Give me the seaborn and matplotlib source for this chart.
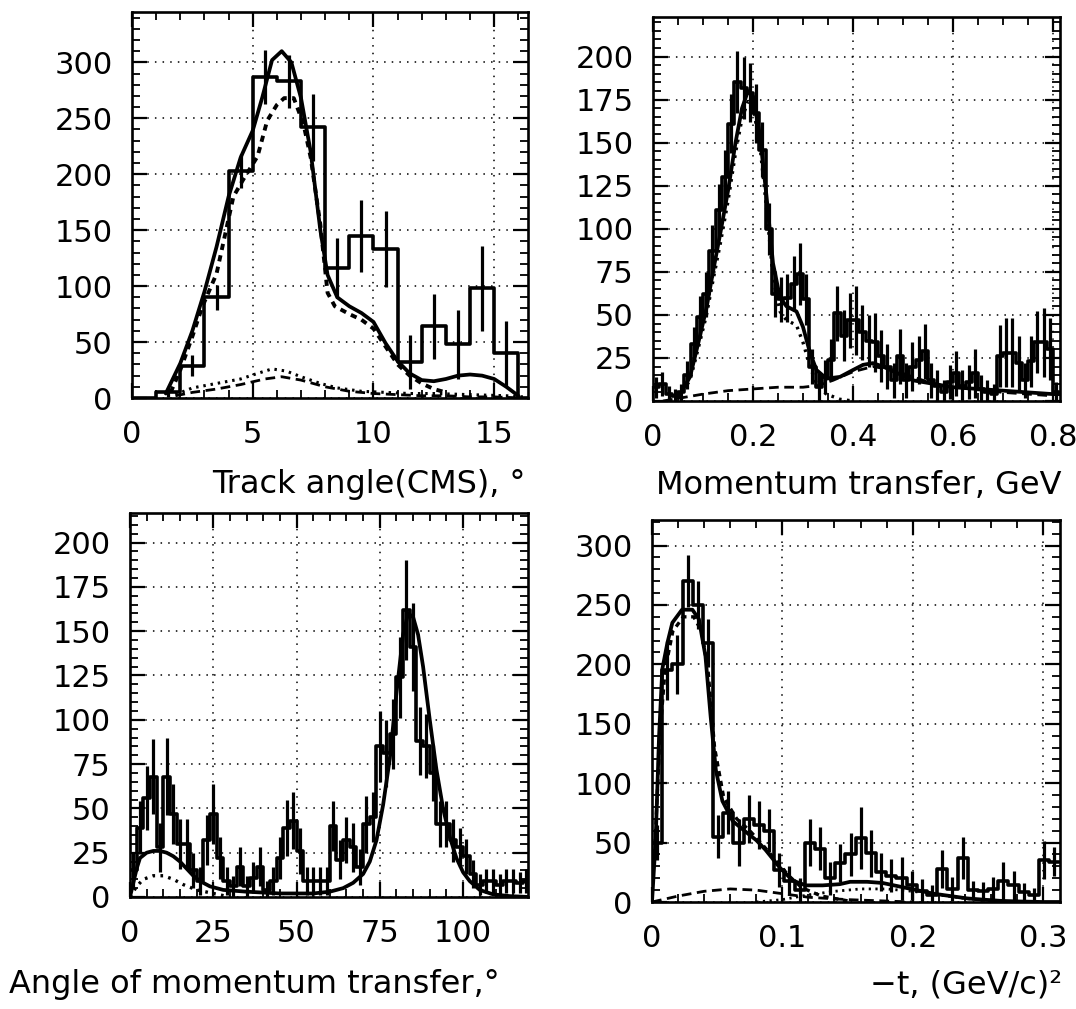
import numpy as np
import pandas as pd
import matplotlib
matplotlib.use("Agg")
import matplotlib.pyplot as plt
from matplotlib.ticker import MultipleLocator
import seaborn as sns

# ---------------- Track angle (CMS) ----------------
p1_width = 1.0
p1_counts = [0, 5, 29, 90, 203, 287, 283, 242, 116, 145, 133, 32, 64, 48, 98, 40, 0]
p1_errs = [0, 4, 9, 11, 15, 24, 24, 30, 27, 32, 34, 24, 29, 31, 38, 29, 0]
p1_fit_x = [1.4, 2.0, 2.5, 3.0, 3.5, 4.0, 4.5, 5.0, 5.4, 5.8, 6.2, 6.6, 7.0, 7.4, 7.8, 8.1,
            8.5, 9.0, 9.5, 10.0, 10.5, 11.0, 11.5, 12.0, 12.5, 13.0, 13.5, 14.0, 14.5, 15.0, 15.5, 16.0]
p1_fit_y = [4, 31, 60, 95, 135, 180, 215, 239, 269, 302, 310, 300, 268, 220, 150, 110,
            90, 82, 76, 68, 49, 33, 22, 16, 15, 17, 20, 21, 20, 17, 10, 2]
p1_main_x = [1.6, 2.0, 2.5, 2.9, 3.5, 4.2, 4.6, 5.2, 5.6, 6.0, 6.3, 6.7, 7.1, 7.4, 7.8, 8.1,
             8.4, 9.0, 9.5, 10.0, 10.5, 11.0, 11.5, 12.0, 12.5, 13.0]
p1_main_y = [5, 25, 55, 81, 111, 180, 195, 216, 248, 262, 268, 268, 245, 215, 155, 94,
             82, 75, 70, 62, 46, 30, 20, 13, 8, 5]
p1_dot_x = [1.8, 2.5, 3.5, 4.5, 5.2, 5.8, 6.4, 7.0, 7.8, 8.5, 9.5, 10.5, 11.5, 12.5, 14.0, 15.5, 16.2]
p1_dot_y = [3, 9, 13, 17, 22, 26, 24, 19, 13, 9, 6, 5, 4, 4, 3, 2, 1]
p1_dash_x = [1.8, 2.5, 3.5, 4.5, 5.5, 6.2, 7.0, 8.0, 9.0, 10.0, 11.0, 12.0, 13.0, 14.0, 15.0, 16.2]
p1_dash_y = [2, 5, 8, 12, 17, 19, 16, 10, 6, 4, 3, 2, 2, 1, 1, 0]
p1_xticks = [0, 5, 10, 15]
p1_xticklabels = ["0", "5", "10", "15"]
p1_yticks = [0, 50, 100, 150, 200, 250, 300]

# ---------------- Momentum transfer ----------------
p2_width = 0.0125
p2_counts = [8, 10, 4, 3, 5, 15, 33, 49, 62, 87, 111, 130, 161, 185, 182, 179, 167, 146,
             100, 62, 59, 60, 68, 74, 59, 20, 8, 14, 24, 51, 38, 47,
             47, 40, 35, 34, 26, 20, 12, 26, 12, 20, 24, 29, 12, 9, 5, 11, 16, 9, 11, 16,
             7, 5, 4, 26, 28, 28, 22, 12, 23, 34, 34, 30, 5]
p2_errs = [6, 7, 5, 4, 5, 8, 10, 12, 13, 15, 15, 16, 17, 18, 18, 17, 17, 16,
           15, 13, 13, 14, 16, 18, 15, 10, 8, 10, 12, 16, 15, 16,
           20, 16, 15, 17, 15, 13, 10, 16, 10, 14, 14, 16, 10, 9, 7, 10, 13, 9, 10, 14,
           8, 7, 6, 18, 20, 20, 16, 10, 15, 18, 20, 18, 6]
p2_fit_x = [0.05, 0.074, 0.09, 0.107, 0.12, 0.135, 0.15, 0.165, 0.178, 0.19, 0.2, 0.214, 0.227,
            0.24, 0.254, 0.267, 0.287, 0.3, 0.314, 0.327, 0.347, 0.374, 0.4, 0.42, 0.44, 0.46,
            0.49, 0.52, 0.56, 0.6, 0.65, 0.7, 0.75, 0.8, 0.815]
p2_fit_y = [2, 14, 33, 54, 75, 98, 122, 150, 170, 180, 177, 154, 119,
            80, 60, 55, 52, 43, 28, 18, 13, 14, 18, 21, 22, 20,
            16, 12, 10, 8, 7, 6, 5, 4, 4]
p2_main_x = [0.05, 0.074, 0.09, 0.107, 0.12, 0.135, 0.15, 0.165, 0.178, 0.19, 0.2, 0.214, 0.227,
             0.24, 0.254, 0.267, 0.287, 0.3, 0.314, 0.327, 0.347, 0.374, 0.4]
p2_main_y = [2, 12, 30, 50, 70, 92, 116, 144, 164, 174, 171, 148, 112,
             72, 52, 47, 44, 34, 20, 10, 4, 1, 0]
p2_dash_x = [0.02, 0.06, 0.1, 0.15, 0.2, 0.25, 0.3, 0.33, 0.36, 0.4, 0.44, 0.48, 0.52, 0.56,
             0.6, 0.7, 0.8]
p2_dash_y = [0, 2, 4, 6, 7, 8, 8, 9, 12, 17, 20, 18, 14, 10, 8, 5, 3]
p2_xticks = [0, 0.2, 0.4, 0.6, 0.8]
p2_xticklabels = ["0", "0.2", "0.4", "0.6", "0.8"]
p2_yticks = [0, 25, 50, 75, 100, 125, 150, 175, 200]

# ---------------- Angle of momentum transfer ----------------
p3_width = 2.0
p3_counts = [15, 39, 56, 68, 28, 68, 47, 30, 30, 15, 9, 32, 47, 22, 9, 6, 17, 6, 11, 17,
             4, 9, 22, 39, 43, 26, 9, 9, 9, 9, 40, 21, 32, 28, 17, 41, 45, 85, 81, 92,
             124, 162, 141, 88, 85, 70, 41, 41, 32, 28, 23, 13, 7, 9, 9, 7, 9, 9, 8, 9]
p3_errs = [10, 15, 18, 21, 14, 22, 17, 14, 14, 10, 8, 14, 17, 12, 8, 6, 11, 6, 9, 11,
           5, 8, 12, 16, 16, 13, 8, 8, 8, 8, 14, 11, 13, 14, 10, 16, 14, 20, 19, 20,
           23, 28, 25, 19, 18, 16, 13, 13, 12, 11, 10, 8, 6, 7, 7, 6, 7, 7, 6, 7]
p3_fit_x = [0, 1, 2, 3, 5, 7, 9, 11, 13, 15, 17, 19, 21, 24, 28, 35, 45, 55, 60, 64, 67, 70,
            72, 74, 76, 78, 80, 82, 83.5, 85, 86.5, 88, 90, 92, 94, 96, 98, 100, 102, 105,
            109, 114, 120]
p3_fit_y = [0, 8, 16, 22, 25, 26, 26, 25, 23, 20, 16, 12, 9, 6, 4, 3, 2, 2, 3, 5, 8, 13,
            20, 32, 52, 78, 115, 148, 160, 158, 148, 130, 100, 72, 50, 34, 22, 14, 9, 4,
            1.5, 0.5, 0]
p3_dot_x = [0, 2, 4, 7, 10, 13, 16, 20, 25, 30]
p3_dot_y = [0, 6, 10, 12, 12, 10, 7, 4, 2, 0]
p3_xticks = [0, 25, 50, 75, 100]
p3_xticklabels = ["0", "25", "50", "75", "100"]
p3_yticks = [0, 25, 50, 75, 100, 125, 150, 175, 200]

# ---------------- -t ----------------
p4_width = 0.0078125
p4_counts = [50, 195, 200, 270, 250, 218, 55, 75, 50, 70, 65, 60, 27, 18, 10, 50, 45, 20, 33, 40,
             54, 41, 25, 22, 20, 14, 9, 6, 28, 11, 37, 10, 9, 11, 18, 14, 8, 6, 35, 34]
p4_errs = [15, 25, 25, 22, 20, 20, 18, 18, 20, 20, 20, 18, 14, 12, 10, 20, 18, 14, 16, 18,
           26, 20, 16, 14, 18, 12, 10, 8, 16, 10, 18, 8, 8, 10, 16, 12, 8, 6, 16, 12]
p4_fit_x = [0.0, 0.0028, 0.0054, 0.0079, 0.0118, 0.0156, 0.023, 0.031, 0.036, 0.041, 0.045,
            0.049, 0.054, 0.062, 0.072, 0.08, 0.087, 0.098, 0.108, 0.118, 0.131, 0.144, 0.152,
            0.165, 0.177, 0.19, 0.203, 0.216, 0.229, 0.242, 0.254, 0.267, 0.28, 0.3, 0.313]
p4_fit_y = [0, 52, 139, 196, 218, 235, 246, 246, 238, 207, 156,
            111, 85, 68, 59, 52, 44, 29, 18, 14, 14, 15, 17,
            17, 16, 13, 10, 7, 5, 3, 2, 1, 0.5, 0, 0]
p4_main_x = [0.002, 0.006, 0.01, 0.016, 0.024, 0.032, 0.038, 0.043, 0.048, 0.055, 0.065,
             0.075, 0.085, 0.095, 0.105, 0.115, 0.13, 0.15]
p4_main_y = [40, 140, 195, 228, 240, 240, 228, 195, 130, 88, 70, 60, 48, 35, 22, 12, 5, 1]
p4_dash_x = [0, 0.02, 0.04, 0.06, 0.08, 0.1, 0.12, 0.15, 0.2]
p4_dash_y = [0, 5, 9, 11, 10, 7, 4, 2, 0]
p4_dot_x = [0.08, 0.1, 0.12, 0.14, 0.16, 0.18, 0.2, 0.22, 0.24, 0.27]
p4_dot_y = [0, 2, 6, 9, 11, 11, 9, 6, 3, 0]
p4_xticks = [0, 0.1, 0.2, 0.3]
p4_xticklabels = ["0", "0.1", "0.2", "0.3"]
p4_yticks = [0, 50, 100, 150, 200, 250, 300]

# ---------------- figure ----------------
sns.set_theme(style="ticks")
plt.rcParams["font.family"] = ["DejaVu Sans"]
plt.rcParams["font.size"] = 22
for key in ("text.color", "axes.labelcolor", "xtick.color", "ytick.color", "axes.edgecolor"):
    plt.rcParams[key] = "black"

W, H = 1076, 1009
fig = plt.figure(figsize=(W / 100, H / 100), dpi=100)


def make_axes(left, top, right, bottom):
    return fig.add_axes([left / W, 1 - bottom / H, (right - left) / W, (bottom - top) / H])


SOLID = "-"
MAIN = (0, (1.6, 1.4))
DOT = (0, (0.8, 1.6))
DASH = (0, (3.5, 2.0))


def panel(ax, width, counts, errs, curves, xlim, ylim, xticks, xticklabels, yticks,
          xminor, yminor):
    counts = np.asarray(counts, dtype=float)
    errs = np.asarray(errs, dtype=float)
    edges = np.arange(len(counts) + 1) * width
    centers = (edges[:-1] + edges[1:]) / 2
    df = pd.DataFrame({"x": centers, "w": counts})
    sns.histplot(data=df, x="x", weights="w", bins=[float(e) for e in edges],
                 element="step", fill=False, color="black", linewidth=2.6, ax=ax)
    m = counts > 0
    ax.errorbar(centers[m], counts[m], yerr=errs[m], fmt="none", ecolor="black",
                elinewidth=2.3, capsize=0)
    for cx, cy, ls, lw in curves:
        sns.lineplot(x=cx, y=cy, ax=ax, color="black", linestyle=ls, linewidth=lw,
                     sort=False, estimator=None)
    ax.set_xlim(*xlim)
    ax.set_ylim(*ylim)
    ax.set_xticks(xticks)
    ax.set_xticklabels(xticklabels)
    ax.set_yticks(yticks)
    ax.set_yticklabels([str(v) for v in yticks])
    ax.xaxis.set_minor_locator(MultipleLocator(xminor))
    ax.yaxis.set_minor_locator(MultipleLocator(yminor))
    ax.tick_params(which="both", direction="in", top=True, right=True, colors="black",
                   labelsize=22, labelcolor="black")
    ax.tick_params(which="major", length=11, width=1.6)
    ax.tick_params(which="minor", length=6, width=1.3)
    ax.tick_params(axis="x", which="major", pad=16)
    ax.tick_params(axis="y", which="major", pad=14)
    ax.grid(True, which="major", color="black", linestyle=(0, (1, 4)), linewidth=1.1)
    ax.set_xlabel("")
    ax.set_ylabel("")
    for s in ax.spines.values():
        s.set_linewidth(1.9)
        s.set_color("black")
    ax.set_facecolor("white")


ax1 = make_axes(132, 12, 528, 398)
panel(ax1, p1_width, p1_counts, p1_errs,
      [(p1_fit_x, p1_fit_y, SOLID, 2.7), (p1_main_x, p1_main_y, MAIN, 2.8),
       (p1_dot_x, p1_dot_y, DOT, 2.2), (p1_dash_x, p1_dash_y, DASH, 2.0)],
      (0, 16.4), (0, 345), p1_xticks, p1_xticklabels, p1_yticks, 1, 10)

ax2 = make_axes(653, 17, 1060, 401)
panel(ax2, p2_width, p2_counts, p2_errs,
      [(p2_fit_x, p2_fit_y, SOLID, 2.7), (p2_main_x, p2_main_y, DOT, 2.4),
       (p2_dash_x, p2_dash_y, DASH, 2.0)],
      (0, 0.814), (0, 223), p2_xticks, p2_xticklabels, p2_yticks, 0.05, 5)

ax3 = make_axes(130, 513, 528, 897)
panel(ax3, p3_width, p3_counts, p3_errs,
      [(p3_fit_x, p3_fit_y, SOLID, 2.7), (p3_dot_x, p3_dot_y, DOT, 2.4)],
      (0, 119.5), (0, 216.7), p3_xticks, p3_xticklabels, p3_yticks, 5, 5)

ax4 = make_axes(652, 520, 1060, 902)
panel(ax4, p4_width, p4_counts, p4_errs,
      [(p4_fit_x, p4_fit_y, SOLID, 2.7), (p4_main_x, p4_main_y, MAIN, 2.4),
       (p4_dash_x, p4_dash_y, DASH, 2.0), (p4_dot_x, p4_dot_y, DOT, 2.0)],
      (0, 0.313), (0, 321.5), p4_xticks, p4_xticklabels, p4_yticks, 0.02, 10)

# axis titles
fig.text(525 / W, 1 - 485 / H, "Track angle(CMS), °", ha="right", va="center",
         fontsize=23, color="black")
fig.text(1062 / W, 1 - 485 / H, "Momentum transfer, GeV", ha="right", va="center",
         fontsize=23, color="black")
fig.text(500 / W, 1 - 985 / H, "Angle of momentum transfer,°", ha="right", va="center",
         fontsize=23, color="black")
fig.text(1062 / W, 1 - 985 / H, "\u2212t, (GeV/c)\u00b2", ha="right", va="center",
         fontsize=23, color="black")

fig.savefig("out.png", dpi=100, facecolor="white")
